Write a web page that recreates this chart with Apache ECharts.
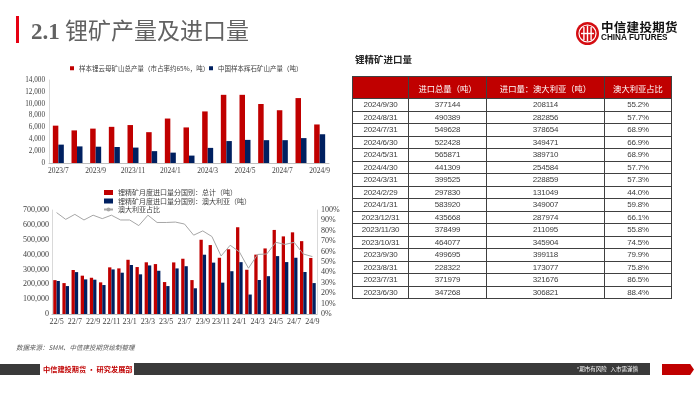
<!DOCTYPE html>
<html><head><meta charset="utf-8">
<script src="https://cdn.jsdelivr.net/npm/echarts@6/dist/echarts.min.js"></script>
<style>
html,body{margin:0;padding:0;background:#fff;}
#wrap{position:relative;width:700px;height:394px;overflow:hidden;background:#fff;font-family:"Noto Sans CJK SC",sans-serif;}
#chart{position:absolute;left:0;top:0;width:700px;height:394px;}
.abs{position:absolute;white-space:nowrap;}
#redbar{left:16px;top:16px;width:2.5px;height:27px;background:#E60012;}
#title{left:31px;top:14px;font-size:23px;line-height:31px;color:#626262;}
#title .num{font-family:"Liberation Serif",serif;font-weight:bold;}
#logo{left:575px;top:21px;}
#logo1{left:601px;top:19px;font-size:12.5px;font-weight:bold;color:#111;line-height:15px;letter-spacing:0.3px;}
#logo2{left:601px;top:33px;font-size:8.2px;font-weight:bold;color:#111;line-height:10px;font-family:"Liberation Sans",sans-serif;}
#ttitle{left:355px;top:52px;font-size:9.5px;font-weight:bold;color:#262626;line-height:14px;}
#tbl{position:absolute;left:352px;top:76px;border-collapse:collapse;table-layout:fixed;width:319px;}
#tbl td,#tbl th{border:1px solid #404040;padding:0;text-align:center;overflow:hidden;}
#tbl th{background:#C00000;color:#fff;font-weight:normal;font-size:8.3px;height:21px;font-family:"Noto Sans CJK SC",sans-serif;}
#tbl td{font-size:8px;color:#404040;height:11.5px;line-height:11px;font-family:"Liberation Sans",sans-serif;letter-spacing:-0.2px;}
#src{left:16px;top:342px;font-size:6.5px;font-style:italic;color:#595959;line-height:10px;}
#fb1{left:0;top:364px;width:40px;height:11px;background:#3a3a3a;}
#ftxt{left:43px;top:363px;font-size:7.2px;font-weight:bold;color:#C00000;line-height:13px;}
#fb2{left:134px;top:363px;width:516px;height:12px;background:#3a3a3a;}
#risk{right:62px;top:363px;font-size:5.5px;color:#fff;line-height:12px;}
#arrow{left:662px;top:364px;width:32px;height:11px;background:#C00000;clip-path:polygon(0 0,88% 0,100% 50%,88% 100%,0 100%);}
</style></head>
<body>
<div id="wrap">
<div id="chart"></div>
<div class="abs" id="redbar"></div>
<div class="abs" id="title"><span class="num">2.1</span> 锂矿产量及进口量</div>
<svg class="abs" id="logo" width="25" height="25" viewBox="0 0 25 25">
<circle cx="12.5" cy="12.5" r="11.5" fill="#D40D12"/>
<circle cx="12.5" cy="12.5" r="8.5" fill="none" stroke="#fff" stroke-width="1.2"/>
<rect x="8.2" y="6" width="1.4" height="13" fill="#fff"/>
<rect x="11.8" y="4.5" width="1.4" height="16" fill="#fff"/>
<rect x="15.4" y="6" width="1.4" height="13" fill="#fff"/>
<rect x="6" y="11.8" width="13" height="1.4" fill="#fff"/>
</svg>
<div class="abs" id="logo1">中信建投期货</div>
<div class="abs" id="logo2">CHINA FUTURES</div>
<div class="abs" id="ttitle">锂精矿进口量</div>
<table id="tbl">
<colgroup><col style="width:56px"><col style="width:78px"><col style="width:118px"><col style="width:67px"></colgroup>
<thead><tr><th></th><th id="h1"></th><th id="h2"></th><th id="h3"></th></tr></thead>
<tbody id="tb"></tbody>
</table>
<div class="abs" id="src">数据来源：SMM、中信建投期货绘制整理</div>
<div class="abs" id="fb1"></div>
<div class="abs" id="ftxt">中信建投期货 · 研究发展部</div>
<div class="abs" id="fb2"></div>
<div class="abs" id="risk">*期市有风险&nbsp;&nbsp;&nbsp;入市需谨慎</div>
<div class="abs" id="arrow"></div>
</div>
<script>
// ---- Top chart data ----
const topMonths = ['2023/7','2023/8','2023/9','2023/10','2023/11','2023/12','2024/1','2024/2','2024/3','2024/4','2024/5','2024/6','2024/7','2024/8','2024/9'];
const lepidoliteOutput = [6300,5500,5800,6100,6400,5200,7500,6000,8700,11500,11500,9950,8900,10950,6500];
const spodumeneOutput = [3100,2800,2750,2700,2600,2000,1750,1250,2550,3700,3900,3850,3850,4200,4850];
const topNames = ['样本锂云母矿山总产量（市占率约65%，吨）','中国样本辉石矿山产量（吨）'];

// ---- Bottom chart data ----
const importMonths = ['22/5','22/6','22/7','22/8','22/9','22/10','22/11','22/12','23/1','23/2','23/3','23/4','23/5','23/6','23/7','23/8','23/9','23/10','23/11','23/12','24/1','24/2','24/3','24/4','24/5','24/6','24/7','24/8','24/9'];
const importTotal = [228000,208000,296000,258000,244000,213000,314000,307000,365000,316000,348000,336000,215000,347268,371979,228322,499695,464077,378499,435668,583920,297830,399525,441309,565871,522428,549628,490389,377144];
const importAus = [222000,188000,282000,233000,231000,195000,300000,278000,330000,267000,327000,291000,188000,306821,321676,173077,399118,345904,211095,287974,349007,131049,228859,254584,389710,349471,378654,282856,208114];
const ausShare = [0.975,0.91,0.958,0.904,0.95,0.917,0.95,0.904,0.904,0.85,0.95,0.88,0.88,0.884,0.865,0.758,0.799,0.745,0.558,0.661,0.598,0.440,0.573,0.577,0.689,0.669,0.689,0.577,0.552];
const bottomNames = ['锂精矿月度进口量分国别：总计（吨）','锂精矿月度进口量分国别：澳大利亚（吨）','澳大利亚占比'];

// ---- Table data ----
const tableHeaders = ['进口总量（吨）','进口量：澳大利亚（吨）','澳大利亚占比'];
const tableDates = ['2024/9/30','2024/8/31','2024/7/31','2024/6/30','2024/5/31','2024/4/30','2024/3/31','2024/2/29','2024/1/31','2023/12/31','2023/11/30','2023/10/31','2023/9/30','2023/8/31','2023/7/31','2023/6/30'];
const tableTotal = ['377144','490389','549628','522428','565871','441309','399525','297830','583920','435668','378499','464077','499695','228322','371979','347268'];
const tableAus = ['208114','282856','378654','349471','389710','254584','228859','131049','349007','287974','211095','345904','399118','173077','321676','306821'];
const tableShare = ['55.2%','57.7%','68.9%','66.9%','68.9%','57.7%','57.3%','44.0%','59.8%','66.1%','55.8%','74.5%','79.9%','75.8%','86.5%','88.4%'];

document.getElementById('h1').textContent = tableHeaders[0];
document.getElementById('h2').textContent = tableHeaders[1];
document.getElementById('h3').textContent = tableHeaders[2];
const tb = document.getElementById('tb');
tableDates.forEach((d,i)=>{
  const tr = document.createElement('tr');
  [d, tableTotal[i], tableAus[i], tableShare[i]].forEach(v=>{
    const td = document.createElement('td'); td.textContent = v; tr.appendChild(td);
  });
  tb.appendChild(tr);
});

const RED = '#C00000', NAVY = '#002060', GRAY = '#A6A6A6';
const serif = 'Liberation Serif';
const cjk = 'Noto Sans CJK SC';
const chart = echarts.init(document.getElementById('chart'), null, {renderer:'canvas'});
const legText = (fs)=>({fontSize:fs,color:'#404040',fontFamily:cjk});
chart.setOption({
  animation:false,
  backgroundColor:'transparent',
  textStyle:{fontFamily:serif},
  legend:[
    {left:70, top:65, padding:0, itemWidth:4, itemHeight:4, itemGap:2, data:[{name:topNames[0], icon:'rect'}], textStyle:legText(6.5)},
    {left:209, top:65, padding:0, itemWidth:4, itemHeight:4, itemGap:2, data:[{name:topNames[1], icon:'rect'}], textStyle:legText(6.5)},
    {left:103, top:189, padding:0, orient:'vertical', itemWidth:9, itemHeight:5, itemGap:1.5,
     data:[{name:bottomNames[0],icon:'rect'},{name:bottomNames[1],icon:'rect'},{name:bottomNames[2]}], textStyle:legText(7)}
  ],
  grid:[
    {left:49, top:80, width:280, height:83},
    {left:52, top:210, width:265, height:104}
  ],
  xAxis:[
    {gridIndex:0, type:'category', data:topMonths,
     axisLine:{show:true, lineStyle:{color:'#bfbfbf', width:1}}, axisTick:{show:false},
     axisLabel:{interval:1, fontSize:7.5, color:'#404040', margin:4, fontFamily:serif}},
    {gridIndex:1, type:'category', data:importMonths,
     axisLine:{show:true, lineStyle:{color:'#bfbfbf', width:1}}, axisTick:{show:false},
     axisLabel:{interval:1, fontSize:8, color:'#404040', margin:4, fontFamily:serif}}
  ],
  yAxis:[
    {gridIndex:0, type:'value', min:0, max:14000, interval:2000, splitLine:{show:false},
     axisLine:{show:true, lineStyle:{color:'#d9d9d9'}}, axisTick:{show:false},
     axisLabel:{fontSize:7.2, color:'#404040', margin:4, fontFamily:serif}},
    {gridIndex:1, type:'value', min:0, max:700000, interval:100000, splitLine:{show:false},
     axisLine:{show:true, lineStyle:{color:'#d9d9d9'}}, axisTick:{show:false},
     axisLabel:{fontSize:8, color:'#404040', margin:3, fontFamily:serif}},
    {gridIndex:1, type:'value', position:'right', min:0, max:1, interval:0.1, splitLine:{show:false},
     axisLine:{show:true, lineStyle:{color:'#d9d9d9'}}, axisTick:{show:false},
     axisLabel:{fontSize:8, color:'#404040', margin:4, fontFamily:serif, formatter:v=>Math.round(v*100)+'%'}}
  ],
  series:[
    {name:topNames[0], type:'bar', xAxisIndex:0, yAxisIndex:0, data:lepidoliteOutput, barWidth:5.5, barGap:'0%', itemStyle:{color:RED}},
    {name:topNames[1], type:'bar', xAxisIndex:0, yAxisIndex:0, data:spodumeneOutput, barWidth:5.5, barGap:'0%', itemStyle:{color:NAVY}},
    {name:bottomNames[0], type:'bar', xAxisIndex:1, yAxisIndex:1, data:importTotal, barWidth:3.3, barGap:'0%', itemStyle:{color:RED}},
    {name:bottomNames[1], type:'bar', xAxisIndex:1, yAxisIndex:1, data:importAus, barWidth:3.3, barGap:'0%', itemStyle:{color:NAVY}},
    {name:bottomNames[2], type:'line', xAxisIndex:1, yAxisIndex:2, data:ausShare, symbol:'none', lineStyle:{color:GRAY, width:1}, itemStyle:{color:GRAY}}
  ]
});
</script>
</body></html>
